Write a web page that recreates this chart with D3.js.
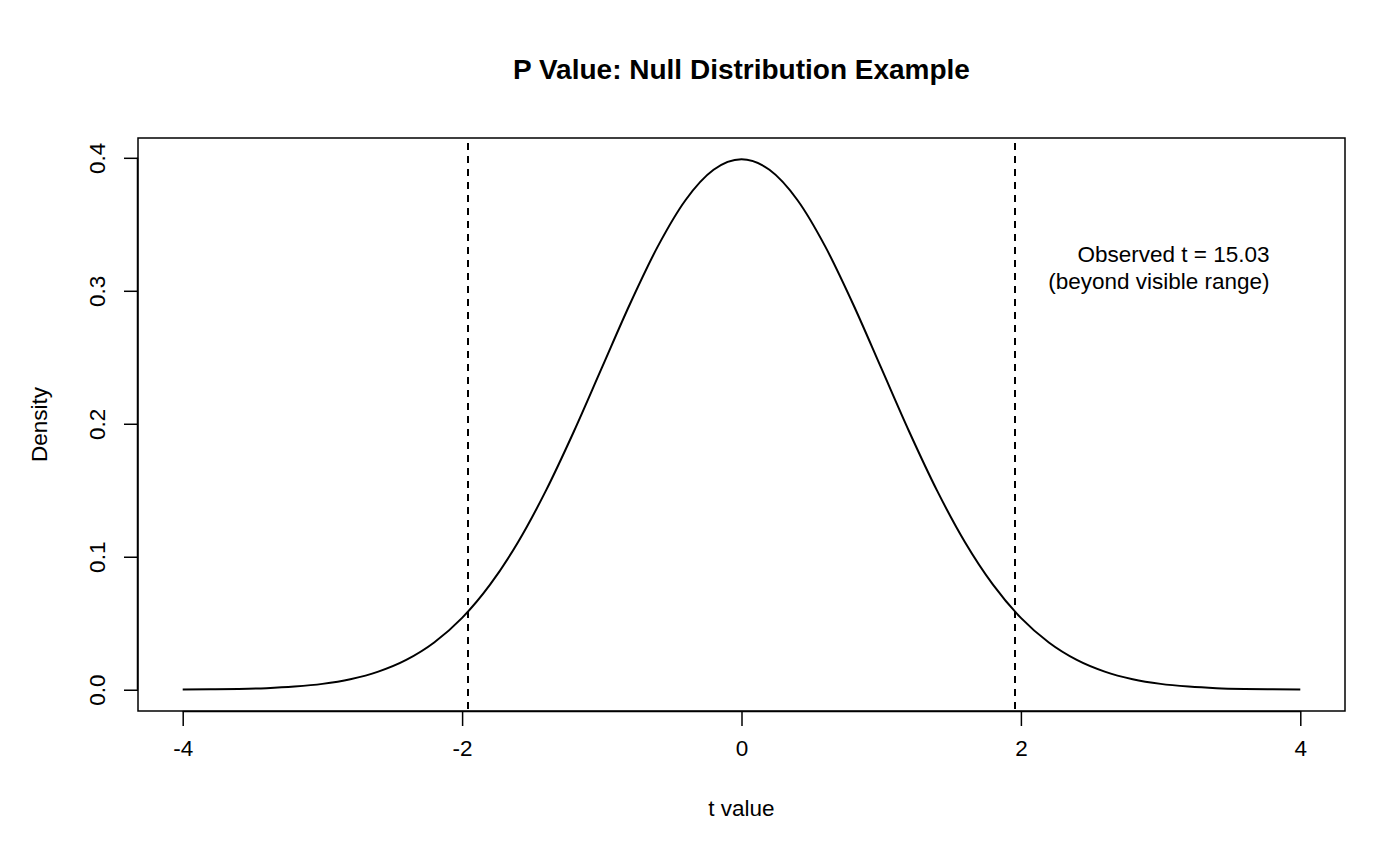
<!DOCTYPE html>
<html lang="en">
	<head>
		<meta charset="utf-8">
		<title>P Value: Null Distribution Example</title>
		<script src="https://d3js.org/d3.v7.min.js"></script>
		<style>
			body { margin:0; background:#fff; }
			text {
				font-family:"Liberation Sans", Arial, sans-serif;
				fill:#000;
			}
		</style>
	</head>
	<body>
		<script type="text/javascript">

			// canvas
			const w = 1400, h = 850;
			const box = {left:138, right:1345, top:138, bottom:711};

			// data (density of the null t distribution)
			var tValues = [-4, -3.8, -3.6, -3.4, -3.2, -3, -2.8, -2.6, -2.4, -2.2, -2, -1.8, -1.6, -1.4, -1.2, -1, -0.8, -0.6, -0.4, -0.2,
						   0, 0.2, 0.4, 0.6, 0.8, 1, 1.2, 1.4, 1.6, 1.8, 2, 2.2, 2.4, 2.6, 2.8, 3, 3.2, 3.4, 3.6, 3.8, 4];
			var density = [0.0001, 0.0003, 0.0006, 0.0012, 0.0024, 0.0044, 0.0079, 0.0136, 0.0224, 0.0355, 0.0540, 0.0790, 0.1109, 0.1497, 0.1942, 0.2420, 0.2897, 0.3332, 0.3683, 0.3910,
						   0.3989, 0.3910, 0.3683, 0.3332, 0.2897, 0.2420, 0.1942, 0.1497, 0.1109, 0.0790, 0.0540, 0.0355, 0.0224, 0.0136, 0.0079, 0.0044, 0.0024, 0.0012, 0.0006, 0.0003, 0.0001];
			var criticalValues = [-1.96, 1.96];
			var xTicks = [-4, -2, 0, 2, 4];
			var yTicks = [0.0, 0.1, 0.2, 0.3, 0.4];
			var noteLines = ["Observed t = 15.03", "(beyond visible range)"];
			var notePos = {x:3.78, y:0.322};

			var svg = d3.select("body")
						.append("svg")
						.attr("width", w)
						.attr("height", h);

			// scales (R style 4% padding on each side)
			var xScale = d3.scaleLinear()
						   .domain([-4.32, 4.32])
						   .range([box.left, box.right]);

			var yScale = d3.scaleLinear()
						   .domain([-0.016, 0.4149])
						   .range([box.bottom, box.top]);

			var points = tValues.map((t, i) => [t, density[i]]);

			// clip to plot box
			svg.append("clipPath")
			   .attr("id", "clip")
			   .append("rect")
			   .attr("x", box.left).attr("y", box.top)
			   .attr("width", box.right - box.left)
			   .attr("height", box.bottom - box.top);

			var plot = svg.append("g").attr("clip-path", "url(#clip)");

			// density curve
			var line = d3.line()
						 .x(d => xScale(d[0]))
						 .y(d => yScale(d[1]))
						 .curve(d3.curveMonotoneX);

			plot.append("path")
				.datum(points)
				.attr("d", line)
				.attr("fill", "none")
				.attr("stroke", "#000")
				.attr("stroke-width", 2);

			// critical value lines
			plot.selectAll("line.crit")
				.data(criticalValues)
				.enter()
				.append("line")
				.attr("class", "crit")
				.attr("x1", d => Math.round(xScale(d)))
				.attr("x2", d => Math.round(xScale(d)))
				.attr("y1", box.top + 5)
				.attr("y2", box.bottom)
				.attr("stroke", "#000")
				.attr("stroke-width", 2)
				.attr("stroke-dasharray", "7,6");

			// box
			svg.append("rect")
			   .attr("x", box.left).attr("y", box.top)
			   .attr("width", box.right - box.left)
			   .attr("height", box.bottom - box.top)
			   .attr("fill", "none")
			   .attr("stroke", "#000")
			   .attr("stroke-width", 1.5);

			// axes
			var xAxis = d3.axisBottom(xScale)
						  .tickValues(xTicks)
						  .tickSize(15)
						  .tickPadding(14)
						  .tickFormat(d3.format("d"));

			var yAxis = d3.axisLeft(yScale)
						  .tickValues(yTicks)
						  .tickSize(14)
						  .tickFormat(d3.format(".1f"));

			var gx = svg.append("g")
						.attr("transform", "translate(0," + box.bottom + ")")
						.call(xAxis);
			gx.select(".domain")
			  .attr("d", "M" + xScale(-4) + ",0.5H" + xScale(4))
			  .attr("stroke-width", 1.5);
			gx.selectAll(".tick line").attr("stroke-width", 1.5);
			gx.selectAll(".tick text")
			  .attr("font-size", 22.5)
			  .attr("font-family", "Liberation Sans, Arial, sans-serif")
			  .text(d => d < 0 ? "-" + Math.abs(d) : d);

			var gy = svg.append("g")
						.attr("transform", "translate(" + box.left + ",0)")
						.call(yAxis);
			gy.select(".domain")
			  .attr("d", "M-0.5," + yScale(0) + "V" + yScale(0.4))
			  .attr("stroke-width", 1.5);
			gy.selectAll(".tick line").attr("stroke-width", 1.5);
			gy.selectAll(".tick text")
			  .attr("font-size", 22.5)
			  .attr("font-family", "Liberation Sans, Arial, sans-serif")
			  .attr("x", null).attr("dy", null)
			  .attr("text-anchor", "middle")
			  .attr("transform", "translate(-33,0) rotate(-90)");

			// title and axis labels
			svg.append("text")
			   .attr("x", (box.left + box.right) / 2)
			   .attr("y", 79)
			   .attr("text-anchor", "middle")
			   .attr("font-size", 28)
			   .attr("font-weight", "bold")
			   .text("P Value: Null Distribution Example");

			svg.append("text")
			   .attr("x", (box.left + box.right) / 2)
			   .attr("y", 816)
			   .attr("text-anchor", "middle")
			   .attr("font-size", 22.5)
			   .text("t value");

			svg.append("text")
			   .attr("transform", "translate(47," + ((box.top + box.bottom) / 2) + ") rotate(-90)")
			   .attr("text-anchor", "middle")
			   .attr("font-size", 22.5)
			   .text("Density");

			// annotation
			svg.append("g")
			   .selectAll("text")
			   .data(noteLines)
			   .enter()
			   .append("text")
			   .attr("x", xScale(notePos.x))
			   .attr("y", (d, i) => yScale(notePos.y) + i * 27)
			   .attr("text-anchor", "end")
			   .attr("font-size", 22.5)
			   .text(d => d);

		</script>
	</body>
</html>
